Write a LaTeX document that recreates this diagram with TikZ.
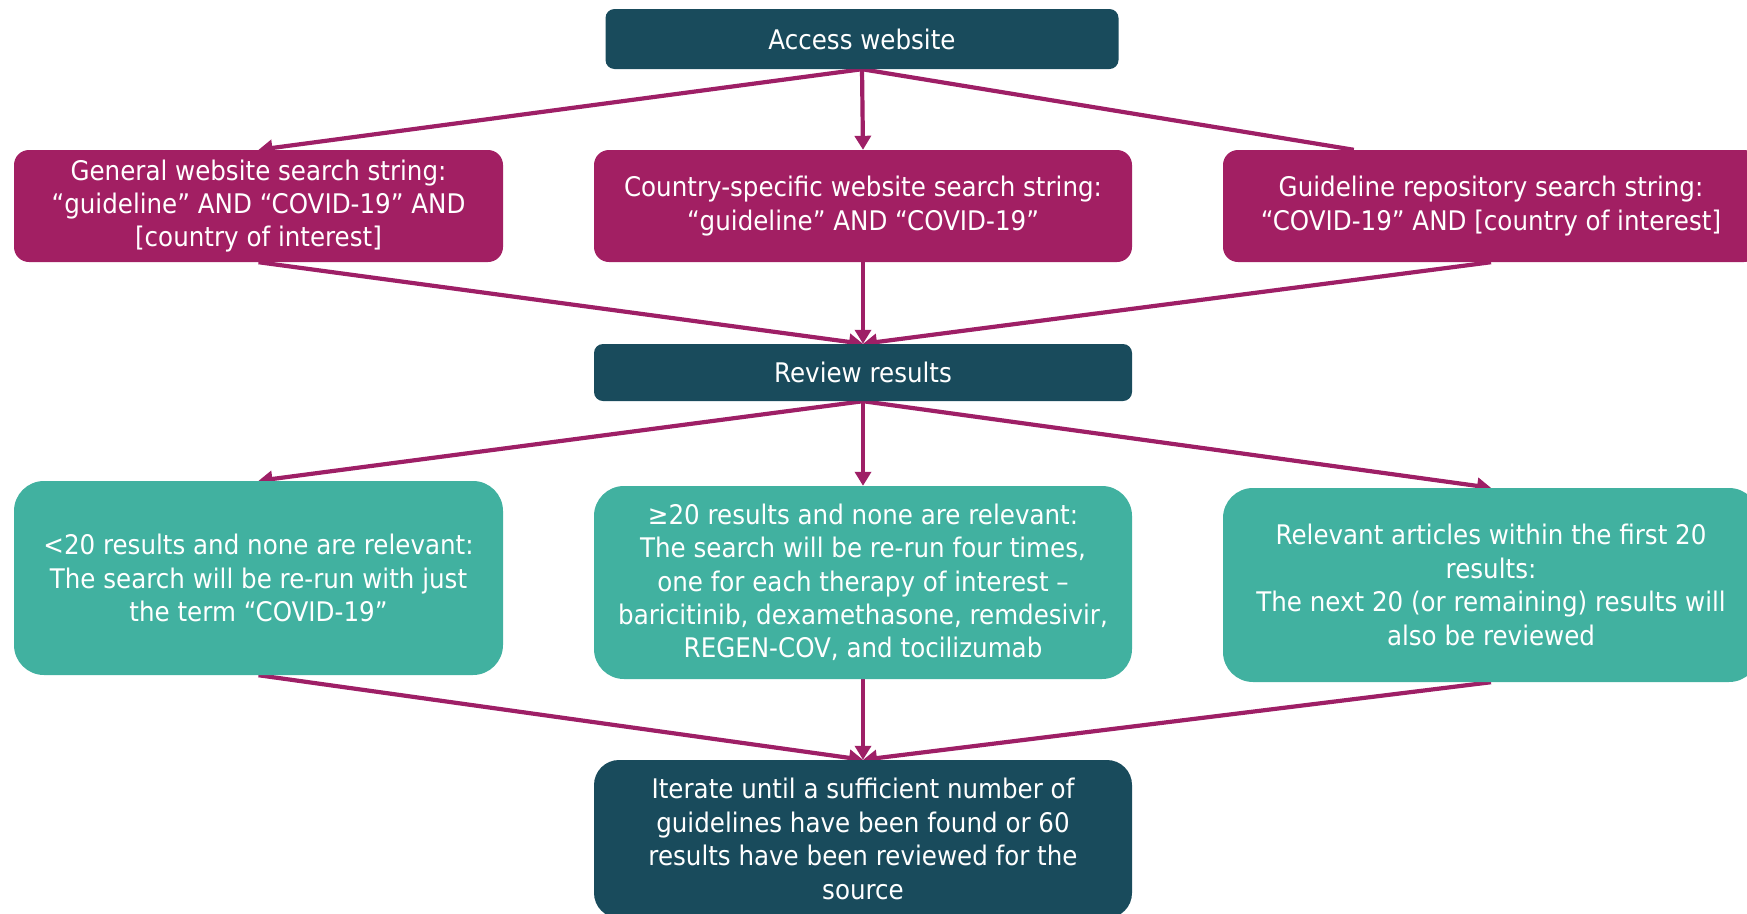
\documentclass[tikz,border=0pt]{standalone}
\usepackage{fontspec}
\setmainfont{DejaVu Sans}[FakeStretch=0.91]
\usetikzlibrary{arrows.meta,calc}
\definecolor{darkteal}{HTML}{194B5C}
\definecolor{magbox}{HTML}{A21F63}
\definecolor{greenbox}{HTML}{41B1A0}
\definecolor{arrowcol}{HTML}{9E1F66}
\pgfdeclarelayer{bg}
\pgfsetlayers{bg,main}
\tikzset{
  base/.style={text=white, align=center, inner sep=0pt, font=\fontsize{27}{33.4}\selectfont},
  darkbox/.style={base, fill=darkteal, rounded corners=9pt},
  magentabox/.style={base, fill=magbox, rounded corners=15pt},
  greenbx/.style={base, fill=greenbox, rounded corners=30pt},
  conn/.style={draw=arrowcol, line width=4.2pt},
  arr/.style={conn, -{Triangle[length=14pt,width=16pt]}},
}
\begin{document}
\begin{tikzpicture}[x=1pt,y=-1pt]
\useasboundingbox (0,0) rectangle (1747,913);
\clip (0,0) rectangle (1747,913);
\node[darkbox, minimum width=513pt, minimum height=60pt] (access) at (862,39) {Access website};
\node[magentabox, minimum width=489pt, minimum height=112pt] (g1) at (258.5,206)
  {General website search string:\\“guideline” AND “COVID-19” AND\\{[country of interest]}};
\node[magentabox, minimum width=538pt, minimum height=112pt] (g2) at (863,206)
  {Country-specific website search string:\\“guideline” AND “COVID-19”};
\node[magentabox, minimum width=536pt, minimum height=112pt] (g3) at (1491,206)
  {Guideline repository search string:\\“COVID-19” AND [country of interest]};
\node[darkbox, minimum width=538pt, minimum height=57pt] (review) at (863,372.5) {Review results};
\node[greenbx, minimum width=489pt, minimum height=194pt] (r1) at (258.5,578)
  {<20 results and none are relevant:\\The search will be re-run with just\\the term “COVID-19”};
\node[greenbx, minimum width=538pt, minimum height=193pt] (r2) at (863,582.5)
  {≥20 results and none are relevant:\\The search will be re-run four times,\\one for each therapy of interest –\\baricitinib, dexamethasone, remdesivir,\\REGEN-COV, and tocilizumab};
\node[greenbx, minimum width=536pt, minimum height=194pt] (r3) at (1491,585)
  {Relevant articles within the first 20\\results:\\The next 20 (or remaining) results will\\also be reviewed};
\node[darkbox, rounded corners=25pt, minimum width=538pt, minimum height=158pt] (final) at (863,839)
  {Iterate until a sufficient number of\\guidelines have been found or 60\\results have been reviewed for the\\source};
\coordinate (g3top) at ($(g3.north west)+(131,0)$);
\begin{pgfonlayer}{bg}
\draw[arr] (access.south) -- (g1.north);
\draw[arr] (access.south) -- (g2.north);
\draw[conn] (access.south) -- (g3top);
\draw[arr] (g1.south) -- (review.north);
\draw[arr] (g2.south) -- (review.north);
\draw[arr] (g3.south) -- (review.north);
\draw[arr] (review.south) -- (r1.north);
\draw[arr] (review.south) -- (r2.north);
\draw[arr] (review.south) -- (r3.north);
\draw[arr] (r1.south) -- (final.north);
\draw[arr] (r2.south) -- (final.north);
\draw[arr] (r3.south) -- (final.north);
\end{pgfonlayer}
\end{tikzpicture}
\end{document}
